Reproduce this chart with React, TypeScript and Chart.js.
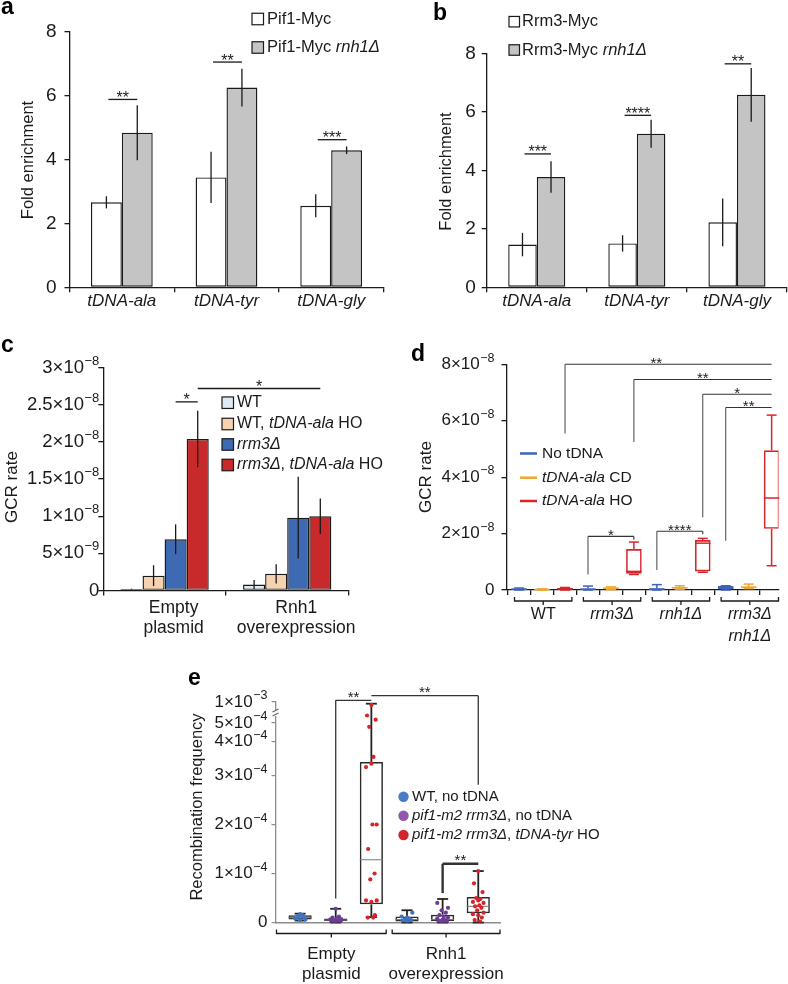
import React, { useEffect, useRef } from 'react';
import { Chart, registerables } from 'chart.js';
Chart.register(...registerables);

const FF = '"Liberation Sans", Arial, Helvetica, sans-serif';
const INK = '#1a1a1a';

// ---------------- Panel a ----------------
const aCategories = ['tDNA-ala', 'tDNA-tyr', 'tDNA-gly'];
const aSeriesNames = ['Pif1-Myc', 'Pif1-Myc _rnh1Δ_'];
const aPif1 = [2.66, 3.44, 2.55];
const aPif1Err = [0.19, 0.8, 0.36];
const aPif1Rnh1 = [4.84, 6.25, 4.29];
const aPif1Rnh1Err = [0.86, 0.59, 0.12];
const aYTicks = [0, 2, 4, 6, 8];
const aSigLabels = ['**', '**', '***'];
const aSigLevels = [5.88, 7.05, 4.62];

// ---------------- Panel b ----------------
const bCategories = ['tDNA-ala', 'tDNA-tyr', 'tDNA-gly'];
const bSeriesNames = ['Rrm3-Myc', 'Rrm3-Myc _rnh1Δ_'];
const bRrm3 = [1.46, 1.5, 2.22];
const bRrm3Err = [0.4, 0.28, 0.82];
const bRrm3Rnh1 = [3.77, 5.25, 6.58];
const bRrm3Rnh1Err = [0.54, 0.48, 0.92];
const bYTicks = [0, 2, 4, 6, 8];
const bSigLabels = ['***', '****', '**'];
const bSigLevels = [4.56, 5.88, 7.64];

// ---------------- Panel c ----------------
const cCategories = ['Empty\nplasmid', 'Rnh1\noverexpression'];
const cSeriesNames = ['WT', 'WT, _tDNA-ala_ HO', '_rrm3Δ_', '_rrm3Δ_, _tDNA-ala_ HO'];
const cWT = [0.02e-8, 0.08e-8];
const cWTErr = [0.005e-8, 0.06e-8];
const cWTHO = [0.2e-8, 0.225e-8];
const cWTHOErr = [0.14e-8, 0.13e-8];
const cRrm3 = [0.69e-8, 0.98e-8];
const cRrm3Err = [0.2e-8, 0.55e-8];
const cRrm3HO = [2.04e-8, 1.0e-8];
const cRrm3HOErr = [0.38e-8, 0.24e-8];
const cYTicks = [0, 0.5e-8, 1e-8, 1.5e-8, 2e-8, 2.5e-8, 3e-8];
const cYTickLabels = ['0', '5×10^-9', '1×10^-8', '1.5×10^-8', '2×10^-8', '2.5×10^-8', '3×10^-8'];
const cSigLabels = ['*', '*'];
const cSigFromCat = [0, 0];
const cSigFromSeries = [2, 3];
const cSigToCat = [0, 1];
const cSigToSeries = [3, 3];
const cSigLevels = [2.54e-8, 2.72e-8];

// ---------------- Panel d ----------------
const dGroups = ['WT', '_rrm3Δ_', '_rnh1Δ_', '_rrm3Δ_\n_rnh1Δ_'];
const dConditions = ['No tDNA', '_tDNA-ala_ CD', '_tDNA-ala_ HO'];
const dMin = [0, 0, 0, 0, 0.01e-8, 0.55e-8, 0, 0.03e-8, 0.63e-8, 0, 0.05e-8, 0.86e-8];
const dQ1 = [0.01e-8, 0.01e-8, 0.01e-8, 0.01e-8, 0.03e-8, 0.58e-8, 0.01e-8, 0.05e-8, 0.66e-8, 0.03e-8, 0.07e-8, 2.17e-8];
const dMedian = [0.03e-8, 0.02e-8, 0.04e-8, 0.03e-8, 0.06e-8, 0.66e-8, 0.03e-8, 0.08e-8, 1.66e-8, 0.08e-8, 0.1e-8, 3.26e-8];
const dQ3 = [0.05e-8, 0.03e-8, 0.08e-8, 0.05e-8, 0.09e-8, 1.45e-8, 0.06e-8, 0.1e-8, 1.77e-8, 0.14e-8, 0.12e-8, 4.95e-8];
const dMax = [0.07e-8, 0.04e-8, 0.09e-8, 0.14e-8, 0.11e-8, 1.7e-8, 0.19e-8, 0.15e-8, 1.83e-8, 0.15e-8, 0.21e-8, 6.2e-8];
const dYTicks = [0, 2e-8, 4e-8, 6e-8, 8e-8];
const dYTickLabels = ['0', '2×10^-8', '4×10^-8', '6×10^-8', '8×10^-8'];
const dSigLabels = ['**', '**', '*', '**', '*', '****'];
const dSigFrom = [2, 5, 8, 9, 3, 6];
const dSigTo = [11, 11, 11, 11, 5, 8];
const dSigLevels = [8e-8, 7.46e-8, 6.94e-8, 6.47e-8, 1.9e-8, 2.08e-8];
const dSigLeftEnd = [5.55e-8, 5.25e-8, 2.58e-8, 1.75e-8, 0.55e-8, 0.71e-8];
const dSigRightEnd = [8e-8, 7.46e-8, 6.94e-8, 6.47e-8, 1.78e-8, 1.98e-8];

// ---------------- Panel e ----------------
const eGroups = ['Empty\nplasmid', 'Rnh1\noverexpression'];
const eStrains = ['WT, no tDNA', '_pif1-m2 rrm3Δ_, no tDNA', '_pif1-m2 rrm3Δ_, _tDNA-tyr_ HO'];
const eMin = [0.04e-4, 0, 0.11e-4, 0, 0, 0];
const eQ1 = [0.06e-4, 0.03e-4, 0.37e-4, 0.02e-4, 0.03e-4, 0.19e-4];
const eMedian = [0.1e-4, 0.05e-4, 1.28e-4, 0.06e-4, 0.06e-4, 0.33e-4];
const eQ3 = [0.15e-4, 0.08e-4, 3.4e-4, 0.12e-4, 0.16e-4, 0.52e-4];
const eMax = [0.18e-4, 0.28e-4, 9.6e-4, 0.25e-4, 0.48e-4, 1.05e-4];
const eWTEmptyPts = [0.05e-4, 0.08e-4, 0.1e-4, 0.12e-4, 0.15e-4, 0.17e-4, 0.09e-4, 0.06e-4];
const ePurpleEmptyPts = [0, 0.02e-4, 0.03e-4, 0.04e-4, 0.05e-4, 0.05e-4, 0.06e-4, 0.07e-4, 0.08e-4, 0.1e-4, 0.12e-4, 0.03e-4, 0.04e-4, 0.06e-4, 0.28e-4];
const eRedEmptyPts = [9.3e-4, 6.8e-4, 5.8e-4, 4.8e-4, 3.55e-4, 3.35e-4, 3.25e-4, 2.0e-4, 2.0e-4, 1.5e-4, 1.0e-4, 0.88e-4, 0.45e-4, 0.45e-4, 0.42e-4, 0.15e-4, 0.1e-4, 0.1e-4];
const eWTRnh1Pts = [0.02e-4, 0.04e-4, 0.05e-4, 0.06e-4, 0.08e-4, 0.1e-4, 0.12e-4, 0.2e-4];
const ePurpleRnh1Pts = [0, 0.01e-4, 0.02e-4, 0.03e-4, 0.05e-4, 0.06e-4, 0.08e-4, 0.1e-4, 0.12e-4, 0.15e-4, 0.2e-4, 0.25e-4, 0.3e-4, 0.4e-4, 0.02e-4, 0.04e-4];
const eRedRnh1Pts = [1.05e-4, 0.8e-4, 0.62e-4, 0.5e-4, 0.48e-4, 0.45e-4, 0.42e-4, 0.4e-4, 0.35e-4, 0.33e-4, 0.3e-4, 0.25e-4, 0.2e-4, 0.17e-4, 0.15e-4, 0.1e-4, 0.05e-4, 0.02e-4];
const eJitter = [0, -0.12, 0.12, -0.06, 0.06, 0, -0.15, 0.15, 0.03, -0.09, 0.09, -0.03, 0.15, -0.15, 0, 0.1, -0.1, 0.05];
const eYTicks = [0, 1e-4, 2e-4, 3e-4, 4e-4, 5e-4, 1e-3];
const eYTickLabels = ['0', '1×10^-4', '2×10^-4', '3×10^-4', '4×10^-4', '5×10^-4', '1×10^-3'];
const eAxisBreakValues = [0, 3e-4, 4e-4, 5e-4, 1e-3];
const eAxisBreakUnits = [0, 3, 3.69, 4.07, 4.5];
const eSigLabels = ['**', '**', '**'];
const eSigFrom = [1, 2, 4];
const eSigTo = [2, 5, 5];
const eSigLevels = [1.04e-3, 1.15e-3, 1.2e-4];
const eSigLeftEnd = [0.49e-4, 1.15e-3, 0.6e-4];
const eSigRightEnd = [1.04e-3, 2.81e-4, 1.2e-4];

function eToAxis(v: number) {
  const V = eAxisBreakValues, U = eAxisBreakUnits;
  for (let i = 1; i < V.length; i++) {
    if (v <= V[i]) return U[i - 1] + ((v - V[i - 1]) / (V[i] - V[i - 1])) * (U[i] - U[i - 1]);
  }
  const n = V.length - 1;
  return U[n] + ((v - V[n]) / (V[n] - V[n - 1])) * (U[n] - U[n - 1]);
}

// ---------------- drawing helpers ----------------
function fnt(size: number, italic = false, bold = false) {
  return `${italic ? 'italic ' : ''}${bold ? 'bold ' : ''}${size}px ${FF}`;
}
function parseRich(s: string) {
  return s.split('_').map((t, k) => ({ t, i: k % 2 === 1 })).filter((g) => g.t.length > 0);
}
function drawRich(ctx: any, s: string, x: number, y: number, size: number, align = 'left', color = INK) {
  const segs = parseRich(s);
  let w = 0;
  for (const g of segs) { ctx.font = fnt(size, g.i); w += ctx.measureText(g.t).width; }
  let cx = align === 'left' ? x : align === 'center' ? x - w / 2 : x - w;
  ctx.textAlign = 'left';
  ctx.textBaseline = 'middle';
  ctx.fillStyle = color;
  for (const g of segs) { ctx.font = fnt(size, g.i); ctx.fillText(g.t, cx, y); cx += ctx.measureText(g.t).width; }
}
function drawSci(ctx: any, label: string, xRight: number, y: number, size: number, sup: number) {
  const parts = label.split('^');
  const base = parts[0];
  const exp = parts[1] ? parts[1].replace('-', '\u2212') : '';
  ctx.textAlign = 'left';
  ctx.textBaseline = 'middle';
  ctx.fillStyle = INK;
  ctx.font = fnt(size);
  const wb = ctx.measureText(base).width;
  let we = 0;
  if (exp) { ctx.font = fnt(sup); we = ctx.measureText(exp).width + 0.5; }
  const x0 = xRight - wb - we;
  ctx.font = fnt(size);
  ctx.fillText(base, x0, y);
  if (exp) { ctx.font = fnt(sup); ctx.fillText(exp, x0 + wb + 0.5, y - size * 0.36); }
}
function drawRotated(ctx: any, text: string, x: number, y: number, size: number) {
  ctx.save();
  ctx.translate(x, y);
  ctx.rotate(-Math.PI / 2);
  ctx.textAlign = 'center';
  ctx.textBaseline = 'middle';
  ctx.font = fnt(size);
  ctx.fillStyle = INK;
  ctx.fillText(text, 0, 0);
  ctx.restore();
}
function seg(ctx: any, x1: number, y1: number, x2: number, y2: number, w = 1.3, color = INK) {
  ctx.save();
  ctx.strokeStyle = color;
  ctx.lineWidth = w;
  ctx.beginPath();
  ctx.moveTo(x1, y1);
  ctx.lineTo(x2, y2);
  ctx.stroke();
  ctx.restore();
}
function stars(ctx: any, text: string, x: number, yLine: number, size = 16) {
  ctx.font = fnt(size);
  ctx.fillStyle = INK;
  ctx.textAlign = 'center';
  ctx.textBaseline = 'alphabetic';
  ctx.fillText(text, x, yLine + 3.5);
}
function panelLetter(ctx: any, letter: string, x: number, y: number) {
  ctx.font = fnt(23, false, true);
  ctx.fillStyle = '#000';
  ctx.textAlign = 'left';
  ctx.textBaseline = 'alphabetic';
  ctx.fillText(letter, x, y);
}
function square(ctx: any, x: number, yc: number, s: number, fill: string) {
  ctx.fillStyle = fill;
  ctx.fillRect(x, yc - s / 2, s, s);
  ctx.strokeStyle = INK;
  ctx.lineWidth = 1.2;
  ctx.strokeRect(x, yc - s / 2, s, s);
}

function padFor(cx: number, cy: number, cw: number, ch: number, L: number, T: number, R: number, B: number) {
  return { left: L - cx, top: T - cy, right: cx + cw - R, bottom: cy + ch - B };
}
function baseOptions(pad: any) {
  return {
    responsive: false,
    maintainAspectRatio: false,
    animation: false,
    devicePixelRatio: 1,
    events: [],
    layout: { padding: pad },
    plugins: { legend: { display: false }, tooltip: { enabled: false }, title: { display: false } },
  };
}
function catAxis(gridOffset: boolean) {
  return {
    type: 'category',
    offset: true,
    grid: { display: true, drawOnChartArea: false, drawTicks: true, tickLength: 5, color: INK, lineWidth: 1.3, offset: gridOffset },
    border: { display: true, color: INK, width: 1.3 },
    ticks: { display: false },
    afterFit: (s: any) => { s.height = 0; },
  };
}
function linAxis(min: number, max: number, step: number, color = INK) {
  return {
    type: 'linear',
    min,
    max,
    ticks: { display: false, stepSize: step },
    grid: { display: true, drawOnChartArea: false, drawTicks: true, tickLength: 5, color, lineWidth: 1.3 },
    border: { display: true, color, width: 1.3 },
    afterFit: (s: any) => { s.width = 0; },
  };
}

// ---------------- Panel a / b (same design) ----------------
function makeFoldPanel(p: any) {
  const { cx, cy, cw, ch, L, T, R, B, cats, names, s1, e1, s2, e2, ticks, sigL, sigV, letter, letterX, letterY,
    tickGap, titleX, titleY, legX, legY, legSq, legTextX, pct } = p;
  return {
    type: 'bar',
    data: {
      labels: cats,
      datasets: [
        { label: names[0], data: s1, backgroundColor: '#ffffff', borderColor: INK, borderWidth: 1.4, borderSkipped: false, categoryPercentage: pct, barPercentage: 1 },
        { label: names[1], data: s2, backgroundColor: '#c4c4c4', borderColor: INK, borderWidth: 1.4, borderSkipped: false, categoryPercentage: pct, barPercentage: 1 },
      ],
    },
    options: {
      ...baseOptions(padFor(cx, cy, cw, ch, L, T, R, B)),
      scales: { x: catAxis(true), y: linAxis(0, 8, 2) },
    },
    plugins: [{
      id: 'foldDecor',
      afterDraw(chart: any) {
        const ctx = chart.ctx;
        const y = chart.scales.y;
        const x = chart.scales.x;
        const area = chart.chartArea;
        [[s1, e1], [s2, e2]].forEach(([vals, errs]: any, k: number) => {
          const meta = chart.getDatasetMeta(k);
          meta.data.forEach((el: any, i: number) => {
            seg(ctx, el.x, y.getPixelForValue(vals[i] - errs[i]), el.x, y.getPixelForValue(vals[i] + errs[i]), 1.3);
          });
        });
        const m0 = chart.getDatasetMeta(0), m1 = chart.getDatasetMeta(1);
        sigL.forEach((lab: string, i: number) => {
          const yy = y.getPixelForValue(sigV[i]);
          const xa = m0.data[i].x + 2, xb = m1.data[i].x;
          seg(ctx, xa, yy, xb, yy, 1.3);
          stars(ctx, lab, (xa + xb) / 2, yy);
        });
        ctx.font = fnt(19);
        ctx.fillStyle = INK;
        ctx.textAlign = 'right';
        ctx.textBaseline = 'middle';
        ticks.forEach((t: number) => ctx.fillText(String(t), area.left - tickGap, y.getPixelForValue(t)));
        cats.forEach((c: string, i: number) => drawRich(ctx, '_' + c + '_', x.getPixelForValue(i), area.bottom + 14, 17, 'center'));
        ctx.save();
        ctx.translate(-cx, -cy);
        drawRotated(ctx, 'Fold enrichment', titleX, titleY, 16.5);
        panelLetter(ctx, letter, letterX, letterY);
        square(ctx, legX, legY[0], legSq, '#ffffff');
        square(ctx, legX, legY[1], legSq, '#c4c4c4');
        drawRich(ctx, names[0], legTextX, legY[0], 16.5);
        drawRich(ctx, names[1], legTextX, legY[1], 16.5);
        ctx.restore();
      },
    }],
  };
}

function makeA() {
  return makeFoldPanel({
    cx: 0, cy: 0, cw: 394, ch: 320, L: 69.5, T: 31.7, R: 383.5, B: 287.3,
    cats: aCategories, names: aSeriesNames, s1: aPif1, e1: aPif1Err, s2: aPif1Rnh1, e2: aPif1Rnh1Err,
    ticks: aYTicks, sigL: aSigLabels, sigV: aSigLevels, letter: 'a', letterX: 1, letterY: 14,
    tickGap: 13, titleX: 28, titleY: 160, legX: 252, legY: [19, 47.5], legSq: 11.5, legTextX: 267, pct: 0.59,
  });
}
function makeB() {
  return makeFoldPanel({
    cx: 394, cy: 0, cw: 394, ch: 320, L: 486.7, T: 53.3, R: 787, B: 287.3,
    cats: bCategories, names: bSeriesNames, s1: bRrm3, e1: bRrm3Err, s2: bRrm3Rnh1, e2: bRrm3Rnh1Err,
    ticks: bYTicks, sigL: bSigLabels, sigV: bSigLevels, letter: 'b', letterX: 433, letterY: 20,
    tickGap: 11, titleX: 446.5, titleY: 171.5, legX: 509, legY: [21.7, 50], legSq: 10.5, legTextX: 522, pct: 0.57,
  });
}

// ---------------- Panel c ----------------
const cColors = ['#dfeaf3', '#f6d3b0', '#3e6ab4', '#c8292b'];
function makeC() {
  const cx = 0, cy = 320, cw = 394, ch = 330;
  const L = 103.3, T = 367.7, R = 348.5, B = 590.5;
  const series = [cWT, cWTHO, cRrm3, cRrm3HO];
  const errs = [cWTErr, cWTHOErr, cRrm3Err, cRrm3HOErr];
  return {
    type: 'bar',
    data: {
      labels: cCategories,
      datasets: series.map((s, k) => ({
        label: cSeriesNames[k], data: s, backgroundColor: cColors[k], borderColor: INK, borderWidth: 1.4,
        borderSkipped: false, categoryPercentage: 0.72, barPercentage: 1,
      })),
    },
    options: {
      ...baseOptions(padFor(cx, cy, cw, ch, L, T, R, B)),
      scales: { x: catAxis(true), y: linAxis(0, 3e-8, 0.5e-8) },
    },
    plugins: [{
      id: 'cDecor',
      afterDraw(chart: any) {
        const ctx = chart.ctx;
        const y = chart.scales.y, x = chart.scales.x, area = chart.chartArea;
        series.forEach((vals, k) => {
          const meta = chart.getDatasetMeta(k);
          meta.data.forEach((el: any, i: number) => {
            seg(ctx, el.x, y.getPixelForValue(Math.max(0, vals[i] - errs[k][i])), el.x, y.getPixelForValue(vals[i] + errs[k][i]), 1.3);
          });
        });
        cSigLabels.forEach((lab, i) => {
          const xa = chart.getDatasetMeta(cSigFromSeries[i]).data[cSigFromCat[i]].x;
          const xb = chart.getDatasetMeta(cSigToSeries[i]).data[cSigToCat[i]].x;
          const yy = y.getPixelForValue(cSigLevels[i]);
          seg(ctx, xa, yy, xb, yy, 1.3);
          stars(ctx, lab, (xa + xb) / 2, yy);
        });
        cYTicks.forEach((t, i) => drawSci(ctx, cYTickLabels[i], area.left - 4, y.getPixelForValue(t), 18.5, 13));
        cCategories.forEach((c, i) => {
          const lines = c.split('\n');
          lines.forEach((ln, j) => drawRich(ctx, ln, x.getPixelForValue(i) + 9, area.bottom + 18 + j * 19.5, 17.5, 'center'));
        });
        ctx.save();
        ctx.translate(-cx, -cy);
        drawRotated(ctx, 'GCR rate', 12, 487, 17);
        panelLetter(ctx, 'c', 1, 352);
        const rows = [402.7, 424, 444.5, 465];
        cSeriesNames.forEach((n, k) => {
          square(ctx, 222, rows[k], 11.5, cColors[k]);
          drawRich(ctx, n, 237, rows[k], 16);
        });
        ctx.restore();
      },
    }],
  };
}

// ---------------- Panel d ----------------
const dColors = ['#3f63b8', '#f0a52d', '#d7262b'];
function makeD() {
  const cx = 394, cy = 320, cw = 394, ch = 340;
  const L = 506.5, T = 364.3, R = 778.5, B = 590;
  return {
    type: 'bar',
    data: {
      datasets: [{
        label: 'GCR rate',
        data: dQ1.map((q1, i) => ({ x: i, y: [q1, dQ3[i]] })),
        backgroundColor: 'rgba(0,0,0,0)',
        borderColor: dQ1.map((_, i) => dColors[i % 3]),
        borderWidth: 1.6,
        borderSkipped: false,
        categoryPercentage: 1,
        barPercentage: 0.68,
      }],
    },
    options: {
      ...baseOptions(padFor(cx, cy, cw, ch, L, T, R, B)),
      scales: {
        x: {
          type: 'linear', min: -0.55, max: 11.3, offset: false,
          grid: { display: true, drawOnChartArea: false, drawTicks: true, tickLength: 5, color: INK, lineWidth: 1.3 },
          border: { display: true, color: INK, width: 1.3 },
          ticks: { display: false },
          afterBuildTicks: (s: any) => { s.ticks = dMin.map((_, i) => ({ value: i })); },
          afterFit: (s: any) => { s.height = 0; },
        },
        y: linAxis(0, 8e-8, 2e-8),
      },
    },
    plugins: [{
      id: 'dDecor',
      afterDraw(chart: any) {
        const ctx = chart.ctx;
        const y = chart.scales.y, x = chart.scales.x, area = chart.chartArea;
        const meta = chart.getDatasetMeta(0);
        meta.data.forEach((el: any, i: number) => {
          const col = dColors[i % 3];
          const hw = el.width / 2, cap = 5;
          seg(ctx, el.x, y.getPixelForValue(dMax[i]), el.x, y.getPixelForValue(dQ3[i]), 1.5, col);
          seg(ctx, el.x, y.getPixelForValue(dQ1[i]), el.x, y.getPixelForValue(dMin[i]), 1.5, col);
          seg(ctx, el.x - cap, y.getPixelForValue(dMax[i]), el.x + cap, y.getPixelForValue(dMax[i]), 1.5, col);
          seg(ctx, el.x - cap, y.getPixelForValue(dMin[i]), el.x + cap, y.getPixelForValue(dMin[i]), 1.5, col);
          seg(ctx, el.x - hw, y.getPixelForValue(dMedian[i]), el.x + hw, y.getPixelForValue(dMedian[i]), 1.5, col);
        });
        dSigLabels.forEach((lab, i) => {
          const xa = x.getPixelForValue(dSigFrom[i]);
          const xb = x.getPixelForValue(dSigTo[i]);
          const yy = y.getPixelForValue(dSigLevels[i]);
          seg(ctx, xa, yy, xb, yy, 1.1, '#333');
          seg(ctx, xa, yy, xa, y.getPixelForValue(dSigLeftEnd[i]), 1.1, '#555');
          seg(ctx, xb, yy, xb, y.getPixelForValue(dSigRightEnd[i]), 1.1, '#333');
          stars(ctx, lab, i < 4 ? (xa + xb) / 2 - (i === 0 ? 12 : 0) : (xa + xb) / 2, yy, 15);
        });
        dYTicks.forEach((t, i) => drawSci(ctx, dYTickLabels[i], area.left - 12, y.getPixelForValue(t), 17, 12.5));
        const yb = area.bottom + 11;
        dGroups.forEach((g, gi) => {
          const x0 = x.getPixelForValue(gi * 3 - 0.2), x1 = x.getPixelForValue(gi * 3 + 2.3);
          const xm = (x0 + x1) / 2;
          seg(ctx, x0, yb, x1, yb, 1.3);
          seg(ctx, x0, yb + 0.6, x0, yb - 4, 1.3);
          seg(ctx, x1, yb + 0.6, x1, yb - 4, 1.3);
          seg(ctx, xm, yb, xm, yb + 4, 1.3);
          g.split('\n').forEach((ln, j) => drawRich(ctx, ln, xm, yb + 14 + j * 21.5, 16, 'center'));
        });
        ctx.save();
        ctx.translate(-cx, -cy);
        drawRotated(ctx, 'GCR rate', 426.5, 477, 17);
        panelLetter(ctx, 'd', 411, 361);
        const rows = [453.5, 477.7, 501];
        dConditions.forEach((c, k) => {
          seg(ctx, 520, rows[k], 537, rows[k], 2.5, dColors[k]);
          drawRich(ctx, c, 542, rows[k], 15.5);
        });
        ctx.restore();
      },
    }],
  };
}

// ---------------- Panel e ----------------
const eStrainColors = ['#3f73c2', '#6d3d96', '#d3262c'];
const eLegendColors = ['#4a7cc6', '#9356aa', '#d3262c'];
function makeE() {
  const cx = 150, cy = 650, cw = 450, ch = 334;
  const L = 275.5, T = 702, R = 500, B = 922.5;
  const boxStrain = [0, 1, 2, 0, 1, 2];
  const pts = [eWTEmptyPts, ePurpleEmptyPts, eRedEmptyPts, eWTRnh1Pts, ePurpleRnh1Pts, eRedRnh1Pts];
  const strainData = [0, 1, 2].map((s) => {
    const arr: any[] = [];
    pts.forEach((p, b) => {
      if (boxStrain[b] !== s) return;
      p.forEach((v, j) => arr.push({ x: b + eJitter[j % eJitter.length], y: eToAxis(v) }));
    });
    return arr;
  });
  return {
    type: 'bar',
    data: {
      datasets: [
        {
          type: 'bar',
          label: 'box',
          data: eQ1.map((q1, i) => ({ x: i, y: [eToAxis(q1), eToAxis(eQ3[i])] })),
          backgroundColor: 'rgba(255,255,255,0)',
          borderColor: '#2a2a2a',
          borderWidth: 1.5,
          borderSkipped: false,
          categoryPercentage: 1,
          barPercentage: 0.65,
          order: 10,
        },
        ...[0, 1, 2].map((s) => ({
          type: 'scatter',
          label: eStrains[s],
          data: strainData[s],
          backgroundColor: eStrainColors[s],
          borderWidth: 0,
          pointRadius: 2.1,
          order: 1,
        })),
      ],
    },
    options: {
      ...baseOptions(padFor(cx, cy, cw, ch, L, T, R, B)),
      scales: {
        x: {
          type: 'linear', min: -0.69, max: 5.61, offset: false,
          grid: { display: false },
          border: { display: true, color: '#8c8c8c', width: 1.6 },
          ticks: { display: false },
          afterFit: (s: any) => { s.height = 0; },
        },
        y: {
          type: 'linear', min: 0, max: 4.5,
          ticks: { display: false },
          grid: { display: true, drawOnChartArea: false, drawTicks: true, tickLength: 4, color: '#8c8c8c', lineWidth: 1.2 },
          border: { display: true, color: '#8c8c8c', width: 1.3 },
          afterBuildTicks: (s: any) => { s.ticks = eYTicks.map((v) => ({ value: eToAxis(v) })); },
          afterFit: (s: any) => { s.width = 0; },
        },
      },
    },
    plugins: [{
      id: 'eDecor',
      afterDatasetDraw(chart: any, args: any) {
        if (args.index !== 0) return;
        const ctx = chart.ctx;
        const y = chart.scales.y;
        args.meta.data.forEach((el: any, i: number) => {
          const hw = el.width / 2, cap = 5.5;
          const py = (v: number) => y.getPixelForValue(eToAxis(v));
          seg(ctx, el.x, py(eMax[i]), el.x, py(eQ3[i]), 1.8, '#222');
          seg(ctx, el.x, py(eQ1[i]), el.x, py(eMin[i]), 1.8, '#222');
          seg(ctx, el.x - cap, py(eMax[i]), el.x + cap, py(eMax[i]), 1.8, '#222');
          seg(ctx, el.x - cap, py(eMin[i]), el.x + cap, py(eMin[i]), 1.8, '#222');
          seg(ctx, el.x - hw, py(eMedian[i]), el.x + hw, py(eMedian[i]), 1, '#777');
        });
      },
      afterDraw(chart: any) {
        const ctx = chart.ctx;
        const y = chart.scales.y, x = chart.scales.x, area = chart.chartArea;
        const py = (v: number) => y.getPixelForValue(eToAxis(v));
        eSigLabels.forEach((lab, i) => {
          const xa = x.getPixelForValue(eSigFrom[i]);
          const xb = x.getPixelForValue(eSigTo[i]);
          const yy = py(eSigLevels[i]);
          const w = i === 2 ? 2.4 : 1.3;
          seg(ctx, xa, yy, xb, yy, w, '#333');
          seg(ctx, xa, yy, xa, py(eSigLeftEnd[i]), w, '#333');
          seg(ctx, xb, yy, xb, py(eSigRightEnd[i]), w, '#333');
          stars(ctx, lab, (xa + xb) / 2, yy - 2, 15);
        });
        const yBreak = py(7.4e-4);
        ctx.fillStyle = '#fff';
        ctx.fillRect(area.left - 3, yBreak - 3, 6, 6);
        seg(ctx, area.left - 3, yBreak - 1, area.left + 3, yBreak - 4, 1.1, '#666');
        seg(ctx, area.left - 3, yBreak + 3, area.left + 3, yBreak, 1.1, '#666');
        eYTicks.forEach((t, i) => drawSci(ctx, eYTickLabels[i], area.left - 8, py(t), 17, 12.5));
        const mid = x.getPixelForValue(2.5);
        const spans = [[area.left + 1, mid - 3], [mid + 3, area.right]];
        const yb = area.bottom + 11;
        eGroups.forEach((g, gi) => {
          const [x0, x1] = spans[gi];
          const xm = (x0 + x1) / 2;
          seg(ctx, x0, yb, x1, yb, 1.3);
          seg(ctx, x0, yb + 0.6, x0, yb - 4, 1.3);
          seg(ctx, x1, yb + 0.6, x1, yb - 4, 1.3);
          seg(ctx, xm, yb, xm, yb + 4, 1.3);
          g.split('\n').forEach((ln, j) => drawRich(ctx, ln, xm, yb + 21 + j * 19.5, 17, 'center'));
        });
        ctx.save();
        ctx.translate(-cx, -cy);
        drawRotated(ctx, 'Recombination frequency', 197.5, 807, 16.5);
        panelLetter(ctx, 'e', 188, 685);
        const rows = [796.7, 815.7, 835];
        eStrains.forEach((s, k) => {
          ctx.beginPath();
          ctx.fillStyle = eLegendColors[k];
          ctx.arc(403.5, rows[k], 5.2, 0, Math.PI * 2);
          ctx.fill();
          drawRich(ctx, s, 412, rows[k], 15);
        });
        ctx.restore();
      },
    }],
  };
}

function Panel({ x, y, w, h, make }: { x: number; y: number; w: number; h: number; make: () => any }) {
  const ref = useRef<HTMLCanvasElement>(null);
  useEffect(() => {
    const chart = new Chart(ref.current as HTMLCanvasElement, make());
    return () => chart.destroy();
  }, []);
  return (
    <canvas ref={ref} width={w} height={h}
      style={{ position: 'absolute', left: x, top: y, width: w, height: h, display: 'block' }} />
  );
}

export default function App() {
  return (
    <div style={{ position: 'absolute', left: 0, top: 0, width: 788, height: 984, background: '#fff', overflow: 'hidden' }}>
      <Panel x={0} y={0} w={394} h={320} make={makeA} />
      <Panel x={394} y={0} w={394} h={320} make={makeB} />
      <Panel x={0} y={320} w={394} h={330} make={makeC} />
      <Panel x={394} y={320} w={394} h={340} make={makeD} />
      <Panel x={150} y={650} w={450} h={334} make={makeE} />
    </div>
  );
}
